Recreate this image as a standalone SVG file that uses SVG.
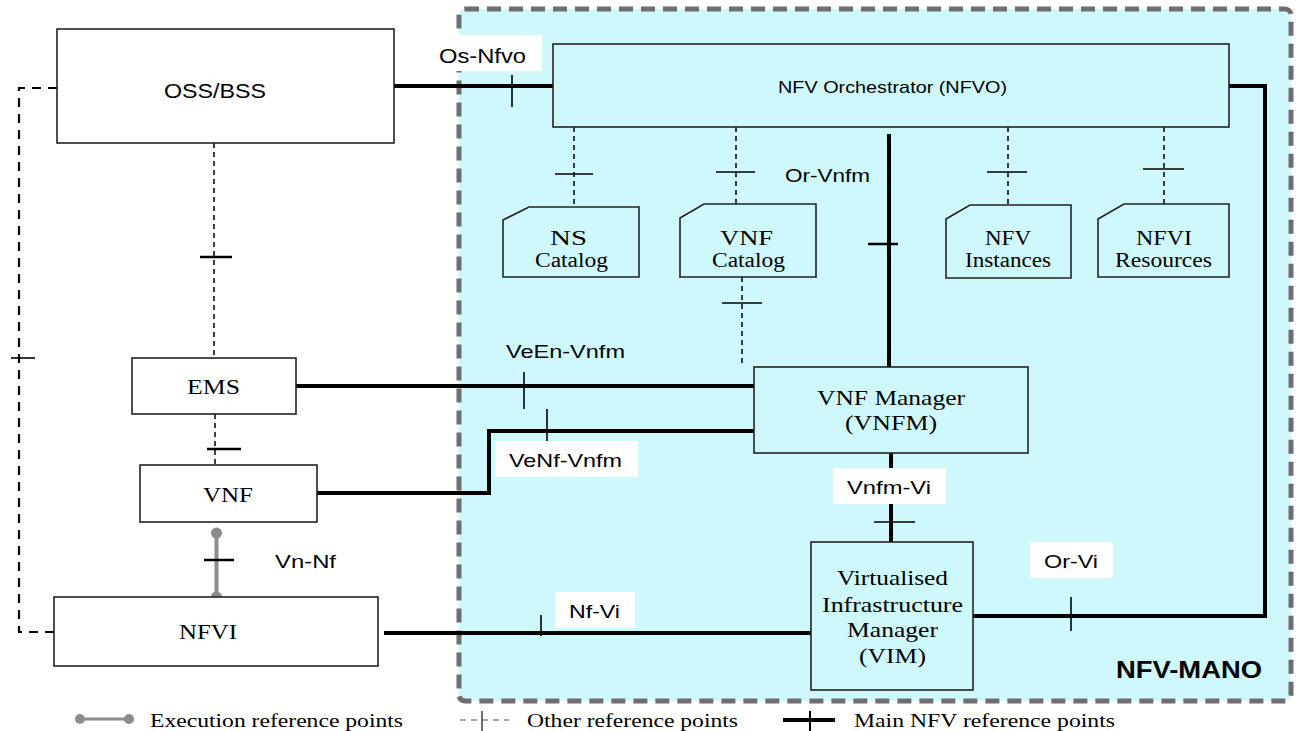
<svg xmlns="http://www.w3.org/2000/svg" width="1299" height="731" viewBox="0 0 1299 731">
<style>
.box{fill:#ffffff;stroke:#222;stroke-width:1.6}
.cbox{fill:#cff8fc;stroke:#222;stroke-width:1.6}
.main{fill:none;stroke:#000;stroke-width:4}
.tick{fill:none;stroke:#000;stroke-width:1.6}
.ttick{fill:none;stroke:#000;stroke-width:2.5}
.dash{fill:none;stroke:#000;stroke-width:1.5;stroke-dasharray:5 4}
.bdash{fill:none;stroke:#000;stroke-width:2.2;stroke-dasharray:9 7}
.sans{font-family:"Liberation Sans",Arial,sans-serif;fill:#000}
.serif{font-family:"Liberation Serif","Times New Roman",serif;fill:#000}
.lbl{fill:#fff}
</style>
<rect x="0" y="0" width="1299" height="731" fill="#fff"/>
<g id="mano">
<rect x="459" y="9" width="832" height="692" rx="6" fill="#cff8fc" stroke="#6e6e6e" stroke-width="5" stroke-dasharray="14 8"/>
<text class="sans" x="1116" y="678" font-size="23" font-weight="bold" textLength="146" lengthAdjust="spacingAndGlyphs">NFV-MANO</text>
</g>
<g id="connectors">
<!-- OSS/BSS - NFVO -->
<path class="main" d="M394 86H553"/>
<path class="tick" d="M512 75V107"/>
<!-- Left dashed OSS - NFVI -->
<path class="bdash" d="M57 88H19V632H54"/>
<path class="tick" d="M11 358H35"/>
<!-- OSS - EMS -->
<path class="dash" d="M214 143V358"/>
<path class="ttick" d="M200 257H232"/>
<!-- EMS - VNF -->
<path class="dash" d="M215 414V465"/>
<path class="ttick" d="M207 449H241"/>
<!-- EMS - VNFM -->
<path class="main" d="M296 386H754"/>
<path class="tick" d="M524 372V409"/>
<!-- VNF - VNFM -->
<path class="main" d="M317 493H489V431H754"/>
<path class="tick" d="M547 409V441"/>
<!-- Vn-Nf -->
<path d="M216.5 533V597" stroke="#8c8c8c" stroke-width="4" fill="none"/>
<circle cx="216.5" cy="533" r="5.5" fill="#8c8c8c"/>
<circle cx="216.5" cy="597" r="5.5" fill="#8c8c8c"/>
<path class="ttick" d="M204 560H234"/>
<!-- NFVI - VIM -->
<path class="main" d="M384 633H811"/>
<path class="tick" d="M541 615V636"/>
<!-- NFVO - catalogs -->
<path class="dash" d="M574 127V207"/>
<path class="tick" d="M555 174H593"/>
<path class="dash" d="M736 127V204"/>
<path class="tick" d="M716 172H755"/>
<path class="dash" d="M742 277V367"/>
<path class="tick" d="M722 303H762"/>
<path class="dash" d="M1008 127V205"/>
<path class="tick" d="M987 172H1027"/>
<path class="dash" d="M1164 127V204"/>
<path class="tick" d="M1143 169H1184"/>
<!-- Or-Vnfm -->
<path class="main" d="M889 134V367"/>
<path class="ttick" d="M868 244H898"/>
<!-- Vnfm-Vi -->
<path class="main" d="M891 453V542"/>
<path class="tick" d="M874 522H915"/>
<!-- Or-Vi -->
<path class="main" d="M973 616H1265V86H1229"/>
<path class="tick" d="M1071 597V631"/>
</g>
<g id="labels">
<rect class="lbl" x="437" y="35" width="105" height="36"/>
<text class="sans" x="439" y="63" font-size="21" textLength="87" lengthAdjust="spacingAndGlyphs">Os-Nfvo</text>
<text class="sans" x="785" y="182" font-size="19" textLength="85" lengthAdjust="spacingAndGlyphs">Or-Vnfm</text>
<text class="sans" x="506" y="358" font-size="19" textLength="119" lengthAdjust="spacingAndGlyphs">VeEn-Vnfm</text>
<rect class="lbl" x="495" y="441" width="143" height="36"/>
<text class="sans" x="509" y="467" font-size="19" textLength="113" lengthAdjust="spacingAndGlyphs">VeNf-Vnfm</text>
<text class="sans" x="275" y="568" font-size="19" textLength="61" lengthAdjust="spacingAndGlyphs">Vn-Nf</text>
<rect class="lbl" x="555" y="592" width="80" height="36"/>
<text class="sans" x="569" y="618" font-size="19" textLength="51" lengthAdjust="spacingAndGlyphs">Nf-Vi</text>
<rect class="lbl" x="833" y="468" width="113" height="36"/>
<text class="sans" x="847" y="494" font-size="19" textLength="84" lengthAdjust="spacingAndGlyphs">Vnfm-Vi</text>
<rect class="lbl" x="1030" y="542" width="83" height="36"/>
<text class="sans" x="1044" y="568" font-size="19" textLength="54" lengthAdjust="spacingAndGlyphs">Or-Vi</text>
</g>
<g id="oss">
<rect class="box" x="57" y="29" width="337" height="114"/>
<text class="sans" x="164" y="98" font-size="21" textLength="102" lengthAdjust="spacingAndGlyphs">OSS/BSS</text>
</g>
<g id="nfvo">
<rect class="cbox" x="553" y="44" width="676" height="83"/>
<text class="sans" x="778" y="93" font-size="16.5" textLength="229" lengthAdjust="spacingAndGlyphs">NFV Orchestrator (NFVO)</text>
</g>
<g id="ems">
<rect class="box" x="132" y="358" width="164" height="56"/>
<text class="serif" x="187" y="394" font-size="21" textLength="53" lengthAdjust="spacingAndGlyphs">EMS</text>
</g>
<g id="vnf">
<rect class="box" x="140" y="465" width="177" height="57"/>
<text class="serif" x="203" y="502" font-size="21" textLength="50" lengthAdjust="spacingAndGlyphs">VNF</text>
</g>
<g id="nfvi">
<rect class="box" x="54" y="597" width="324" height="69"/>
<text class="serif" x="179" y="639" font-size="21" textLength="58" lengthAdjust="spacingAndGlyphs">NFVI</text>
</g>
<g id="ns-catalog">
<path class="cbox" d="M503 220L529 207H639V277H503Z"/>
<text class="serif" x="550" y="245" font-size="20" textLength="37" lengthAdjust="spacingAndGlyphs">NS</text>
<text class="serif" x="535" y="267" font-size="20" textLength="73" lengthAdjust="spacingAndGlyphs">Catalog</text>
</g>
<g id="vnf-catalog">
<path class="cbox" d="M680 218L704 204H816V277H680Z"/>
<text class="serif" x="720" y="245" font-size="20" textLength="53" lengthAdjust="spacingAndGlyphs">VNF</text>
<text class="serif" x="712" y="267" font-size="20" textLength="73" lengthAdjust="spacingAndGlyphs">Catalog</text>
</g>
<g id="nfv-instances">
<path class="cbox" d="M946 219L970 205H1071V278H946Z"/>
<text class="serif" x="985" y="245" font-size="20" textLength="46" lengthAdjust="spacingAndGlyphs">NFV</text>
<text class="serif" x="965" y="267" font-size="20" textLength="86" lengthAdjust="spacingAndGlyphs">Instances</text>
</g>
<g id="nfvi-resources">
<path class="cbox" d="M1098 219L1124 204H1229V277H1098Z"/>
<text class="serif" x="1136" y="245" font-size="20" textLength="56" lengthAdjust="spacingAndGlyphs">NFVI</text>
<text class="serif" x="1115" y="267" font-size="20" textLength="97" lengthAdjust="spacingAndGlyphs">Resources</text>
</g>
<g id="vnfm">
<rect class="cbox" x="754" y="367" width="274" height="86"/>
<text class="serif" x="817" y="405" font-size="21" textLength="148" lengthAdjust="spacingAndGlyphs">VNF Manager</text>
<text class="serif" x="845" y="430" font-size="21" textLength="92" lengthAdjust="spacingAndGlyphs">(VNFM)</text>
</g>
<g id="vim">
<rect class="cbox" x="811" y="542" width="162" height="148"/>
<text class="serif" x="837" y="585" font-size="21" textLength="111" lengthAdjust="spacingAndGlyphs">Virtualised</text>
<text class="serif" x="822" y="612" font-size="21" textLength="141" lengthAdjust="spacingAndGlyphs">Infrastructure</text>
<text class="serif" x="847" y="637" font-size="21" textLength="91" lengthAdjust="spacingAndGlyphs">Manager</text>
<text class="serif" x="859" y="663" font-size="21" textLength="67" lengthAdjust="spacingAndGlyphs">(VIM)</text>
</g>
<g id="legend">
<path d="M80 719H129" stroke="#8c8c8c" stroke-width="3" fill="none"/>
<circle cx="80" cy="719" r="5" fill="#8c8c8c"/>
<circle cx="129" cy="719" r="5" fill="#8c8c8c"/>
<text class="serif" x="150" y="727" font-size="19" textLength="253" lengthAdjust="spacingAndGlyphs">Execution reference points</text>
<path d="M460 720H509" stroke="#8c8c8c" stroke-width="1.6" stroke-dasharray="6 5" fill="none"/>
<path d="M482 711V731" stroke="#333" stroke-width="1.4" fill="none"/>
<text class="serif" x="527" y="727" font-size="19" textLength="211" lengthAdjust="spacingAndGlyphs">Other reference points</text>
<path d="M783 720H835" stroke="#000" stroke-width="4" fill="none"/>
<path d="M810 711V731" stroke="#000" stroke-width="2" fill="none"/>
<text class="serif" x="854" y="727" font-size="19" textLength="261" lengthAdjust="spacingAndGlyphs">Main NFV reference points</text>
</g>
</svg>
